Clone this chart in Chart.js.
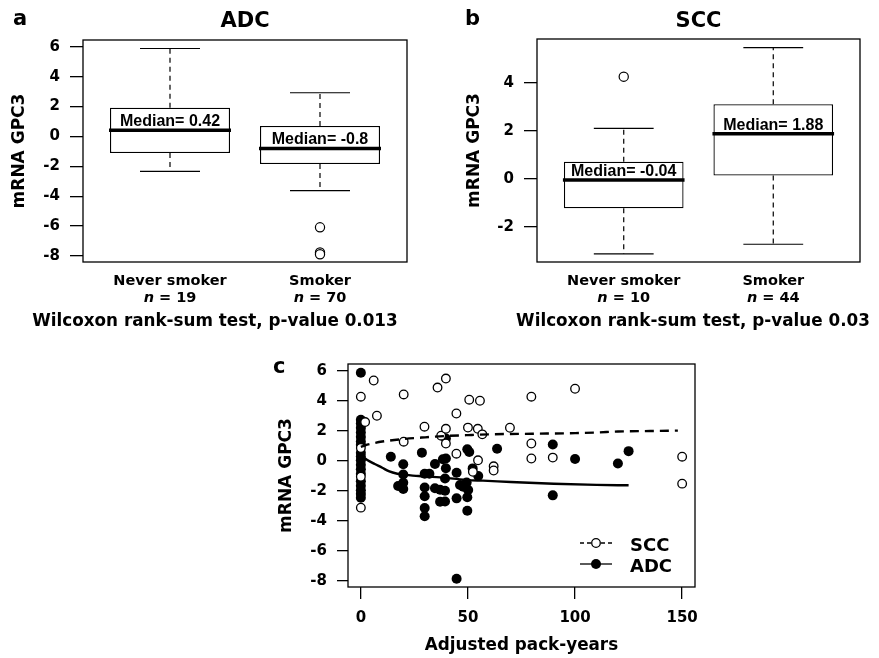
<!DOCTYPE html>
<html>
<head>
<meta charset="utf-8">
<title>GPC3 mRNA by smoking status</title>
<script src="https://cdn.jsdelivr.net/npm/chart.js@4.4.0/dist/chart.umd.min.js"></script>
<style>
  body { margin: 0; background: #fff; }
  #wrap { position: relative; width: 879px; height: 658px; overflow: hidden; }
  canvas { position: absolute; }
</style>
</head>
<body>
<div id="wrap">
  <canvas id="chartA" width="440" height="340" style="left:0;top:0"></canvas>
  <canvas id="chartB" width="439" height="340" style="left:440px;top:0"></canvas>
  <canvas id="chartC" width="450" height="328" style="left:270px;top:330px"></canvas>
</div>
<script>
// ---- data ----
const groups = ['Never smoker', 'Smoker'];

// a: ADC box plot (five-number summaries)
const adcN = [19, 70];
const adcLow = [-2.34, -3.63];
const adcQ1 = [-1.11, -1.85];
const adcMedian = [0.42, -0.8];
const adcQ3 = [1.92, 0.70];
const adcHigh = [5.88, 2.92];
const adcOutliers = [[], [-6.08, -7.76, -7.88]];
const adcPValue = '0.013';

// b: SCC box plot
const sccN = [10, 44];
const sccLow = [-3.12, -2.72];
const sccQ1 = [-1.22, 0.14];
const sccMedian = [-0.04, 1.88];
const sccQ3 = [0.72, 3.11];
const sccHigh = [2.11, 5.47];
const sccOutliers = [[4.26], []];
const sccPValue = '0.03';

const yTicksA = [-8, -6, -4, -2, 0, 2, 4, 6];
const yTicksB = [-2, 0, 2, 4];
const yTicksC = [-8, -6, -4, -2, 0, 2, 4, 6];
const xTicksC = [0, 50, 100, 150];

// c: GPC3 vs adjusted pack-years
const sccPackYears = [0, 0, 0, 0, 2, 6, 7.5, 20, 20, 29.7, 35.8, 37.5, 39.7, 39.7, 39.7, 44.6, 44.6,
  50, 50.6, 52.3, 54.6, 54.7, 55.6, 56.7, 62, 62, 69.6, 79.6, 79.6, 79.6, 89.6, 100, 150, 150];
const sccGPC3 = [4.29, 0.87, -1.05, -3.11, 2.6, 5.37, 3.02, 4.44, 1.29, 2.29, 4.9, 1.69, 5.5, 2.15, 1.17, 3.17, 0.49,
  2.23, 4.09, -0.72, 2.15, 0.05, 4.02, 1.78, -0.35, -0.63, 2.22, 4.29, 1.17, 0.17, 0.23, 4.82, 0.29, -1.51];

const adcPackYears = [0, 0, 0, 0, 0, 0, 0, 0, 0, 0, 0, 0, 0, 0, 0, 0, 0, 0, 0,
  14, 17.4, 19.8, 19.8, 19.8, 19.8, 28.5, 29.8, 32, 29.8, 29.8, 29.8, 29.8, 34.6, 34.6, 37, 39.3, 37, 39.3,
  38.3, 39.7, 39.7, 39.3, 39.7, 44.7, 46.3, 47.8, 49.4, 50.1, 44.7, 49.7, 49.7, 44.7, 49.7, 50.6, 52.2,
  54.8, 63.6, 89.6, 89.6, 100, 120, 125];
const adcGPC3 = [5.89, 2.75, 2.5, 2.2, 1.9, 1.6, 1.3, 1.07, 0.55, 0.3, 0.05, -0.25, -0.55, -0.85, -1.35, -1.65, -1.95, -2.2, -2.45,
  0.29, -1.67, -0.22, -0.9, -1.45, -1.87, 0.56, -0.85, -0.85, -1.76, -2.35, -3.13, -3.68, -0.2, -1.82, -1.92, -1.98, -2.72, -2.7,
  0.12, 0.17, -0.48, -1.16, 1.5, -0.78, -1.6, -1.71, -1.44, -1.93, -2.49, -2.42, -3.31, -7.85, 0.78, 0.6, -0.49,
  -1.0, 0.82, 1.1, -2.29, 0.13, -0.17, 0.66];

// smoothed trend lines
const sccTrendX = [0, 2, 5, 10, 20, 30, 40, 50, 60, 80, 100, 110, 120, 135, 148];
const sccTrendY = [0.95, 1.05, 1.16, 1.3, 1.47, 1.58, 1.67, 1.73, 1.78, 1.82, 1.86, 1.9, 1.97, 2.0, 2.03];
const adcTrendX = [0, 3, 6.5, 10, 13, 17, 20, 27, 40, 50, 57, 70, 90, 110, 125];
const adcTrendY = [0.38, 0.07, -0.2, -0.45, -0.68, -0.85, -0.9, -1.0, -1.12, -1.27, -1.31, -1.4, -1.52, -1.59, -1.62];

// ---- drawing ----
const FONT = '"DejaVu Sans", sans-serif';
Chart.defaults.font.family = FONT;
Chart.defaults.font.weight = 'bold';
Chart.defaults.color = '#000';
Chart.defaults.animation = false;

function line(ctx, x1, y1, x2, y2) {
  ctx.beginPath();
  ctx.moveTo(x1, y1);
  ctx.lineTo(x2, y2);
  ctx.stroke();
}

function text(ctx, s, x, y, size, align, style) {
  ctx.font = (style || 'bold') + ' ' + size + 'px ' + FONT;
  ctx.textAlign = align || 'center';
  ctx.textBaseline = 'alphabetic';
  ctx.fillText(s, x, y);
}

function yTitle(ctx, s, x, y, size) {
  ctx.save();
  ctx.translate(x, y);
  ctx.rotate(-Math.PI / 2);
  ctx.font = 'bold ' + size + 'px ' + FONT;
  ctx.textAlign = 'center';
  ctx.textBaseline = 'middle';
  ctx.fillText(s, 0, 0);
  ctx.restore();
}

function tickList(arr) {
  return s => { s.ticks = arr.map(v => ({ value: v })); };
}

function boxPanelPlugin(p) {
  return {
    id: 'boxPanel',
    afterDatasetsDraw(chart) {
      const { ctx, chartArea: a, scales: { x, y } } = chart;
      ctx.save();
      ctx.strokeStyle = '#000';
      ctx.fillStyle = '#000';
      p.median.forEach((m, i) => {
        const c = i + 1;
        const cx = x.getPixelForValue(c);
        const yHi = y.getPixelForValue(p.high[i]);
        const yLo = y.getPixelForValue(p.low[i]);
        ctx.lineWidth = 1.2;
        ctx.setLineDash([5, 4]);
        line(ctx, cx, y.getPixelForValue(p.q3[i]), cx, yHi);
        line(ctx, cx, y.getPixelForValue(p.q1[i]), cx, yLo);
        ctx.setLineDash([]);
        line(ctx, x.getPixelForValue(c - 0.2), yHi, x.getPixelForValue(c + 0.2), yHi);
        line(ctx, x.getPixelForValue(c - 0.2), yLo, x.getPixelForValue(c + 0.2), yLo);

        const ym = y.getPixelForValue(m);
        ctx.lineWidth = 3.5;
        line(ctx, x.getPixelForValue(c - 0.4) - 1, ym, x.getPixelForValue(c + 0.4) + 1, ym);
        ctx.font = 'bold 16px "Liberation Sans", Arial, sans-serif';
        ctx.textAlign = 'center';
        ctx.textBaseline = 'alphabetic';
        ctx.fillText('Median= ' + m, cx, ym - 4);

        // group label and n
        text(ctx, groups[i], cx, a.bottom + 23, 14.5);
        ctx.font = 'italic bold 14.5px ' + FONT;
        const wN = ctx.measureText('n').width;
        ctx.font = 'bold 14.5px ' + FONT;
        const rest = ' = ' + p.n[i];
        const wR = ctx.measureText(rest).width;
        const x0 = cx - (wN + wR) / 2;
        text(ctx, 'n', x0, a.bottom + 40, 14.5, 'left', 'italic bold');
        text(ctx, rest, x0 + wN, a.bottom + 40, 14.5, 'left');
      });
      ctx.lineWidth = 1.3;
      ctx.strokeRect(a.left, a.top, a.width, a.height);

      text(ctx, p.letter, p.letterX, 25, 21, 'left');
      text(ctx, p.title, (a.left + a.right) / 2, 27, 21);
      yTitle(ctx, 'mRNA GPC3', p.yTitleX, (a.top + a.bottom) / 2, 17);
      text(ctx, 'Wilcoxon rank-sum test, p-value ' + p.pValue, p.testX, 326, 16.8);
      ctx.restore();
    }
  };
}

function makeBoxChart(id, p) {
  return new Chart(document.getElementById(id), {
    type: 'bar',
    data: {
      datasets: [
        {
          type: 'scatter',
          data: p.outliers.flatMap((vals, i) => vals.map(v => ({ x: i + 1, y: v }))),
          pointStyle: 'circle',
          pointRadius: 4.6,
          backgroundColor: '#fff',
          borderColor: '#000',
          borderWidth: 1.2
        },
        {
          type: 'bar',
          data: groups.map((g, i) => ({ x: i + 1, y: [p.q1[i], p.q3[i]] })),
          backgroundColor: '#fff',
          borderColor: '#000',
          borderWidth: 1.3,
          borderSkipped: false,
          categoryPercentage: 1,
          barPercentage: 0.8
        }
      ]
    },
    options: {
      responsive: false,
      events: [],
      layout: { padding: { top: p.padTop, right: p.padRight, left: 0, bottom: 0 } },
      plugins: { legend: { display: false }, tooltip: { enabled: false } },
      scales: {
        x: {
          type: 'linear', min: 0.42, max: 2.58, offset: false,
          afterBuildTicks: tickList(groups.map((g, i) => i + 1)),
          afterFit: s => { s.height = p.xHeight; },
          ticks: { display: false },
          grid: { display: false },
          border: { display: false }
        },
        y: {
          type: 'linear', min: p.yMin, max: p.yMax,
          afterBuildTicks: tickList(p.yTicks),
          afterFit: s => { s.width = p.yWidth; },
          ticks: { padding: 10, font: { size: 15, weight: 'bold' }, color: '#000' },
          grid: { drawOnChartArea: false, drawTicks: true, tickLength: 13, color: '#000', lineWidth: 1.3 },
          border: { display: false }
        }
      }
    },
    plugins: [boxPanelPlugin(p)]
  });
}

makeBoxChart('chartA', {
  letter: 'a', title: 'ADC', n: adcN, pValue: adcPValue,
  low: adcLow, q1: adcQ1, median: adcMedian, q3: adcQ3, high: adcHigh, outliers: adcOutliers,
  yTicks: yTicksA, yMin: -8.4, yMax: 6.45,
  padTop: 40, padRight: 33, yWidth: 83, xHeight: 78,
  letterX: 13, yTitleX: 20, testX: 215
});

makeBoxChart('chartB', {
  letter: 'b', title: 'SCC', n: sccN, pValue: sccPValue,
  low: sccLow, q1: sccQ1, median: sccMedian, q3: sccQ3, high: sccHigh, outliers: sccOutliers,
  yTicks: yTicksB, yMin: -3.46, yMax: 5.83,
  padTop: 39, padRight: 19, yWidth: 97, xHeight: 78,
  letterX: 25, yTitleX: 35, testX: 253
});

const scatterPanel = {
  id: 'scatterPanel',
  afterDatasetsDraw(chart) {
    const { ctx, chartArea: a } = chart;
    ctx.save();
    ctx.strokeStyle = '#000';
    ctx.fillStyle = '#000';
    ctx.lineWidth = 1.3;
    ctx.strokeRect(a.left, a.top, a.width, a.height);

    text(ctx, 'c', 3, 43, 21, 'left');
    yTitle(ctx, 'mRNA GPC3', 17, (a.top + a.bottom) / 2, 17);
    text(ctx, 'Adjusted pack-years', (a.left + a.right) / 2, 320, 16.8);

    // legend
    const l1 = a.right - 115, l2 = a.right - 83, lc = (l1 + l2) / 2;
    const y1 = a.bottom - 44, y2 = a.bottom - 23;
    ctx.lineWidth = 1.3;
    ctx.setLineDash([4, 3]);
    line(ctx, l1, y1, l2, y1);
    ctx.setLineDash([]);
    ctx.beginPath();
    ctx.arc(lc, y1, 4.3, 0, Math.PI * 2);
    ctx.fillStyle = '#fff';
    ctx.fill();
    ctx.stroke();
    line(ctx, l1, y2, l2, y2);
    ctx.fillStyle = '#000';
    ctx.beginPath();
    ctx.arc(lc, y2, 5, 0, Math.PI * 2);
    ctx.fill();
    text(ctx, 'SCC', a.right - 65, y1 + 8, 18, 'left');
    text(ctx, 'ADC', a.right - 65, y2 + 8, 18, 'left');
    ctx.restore();
  }
};

function pairs(xs, ys) {
  return xs.map((v, i) => ({ x: v, y: ys[i] }));
}

new Chart(document.getElementById('chartC'), {
  type: 'scatter',
  data: {
    datasets: [
      {
        type: 'line', label: 'SCC trend', data: pairs(sccTrendX, sccTrendY),
        borderColor: '#000', borderWidth: 2.4, borderDash: [9, 6], pointRadius: 0,
        cubicInterpolationMode: 'monotone', fill: false, order: 0
      },
      {
        type: 'line', label: 'ADC trend', data: pairs(adcTrendX, adcTrendY),
        borderColor: '#000', borderWidth: 2.4, pointRadius: 0,
        cubicInterpolationMode: 'monotone', fill: false, order: 1
      },
      {
        label: 'SCC', data: pairs(sccPackYears, sccGPC3),
        pointStyle: 'circle', pointRadius: 4.3, backgroundColor: '#fff', borderColor: '#000', borderWidth: 1.3,
        order: 2
      },
      {
        label: 'ADC', data: pairs(adcPackYears, adcGPC3),
        pointStyle: 'circle', pointRadius: 5, backgroundColor: '#000', borderColor: '#000', borderWidth: 0,
        order: 3
      }
    ]
  },
  options: {
    responsive: false,
    events: [],
    layout: { padding: { top: 34, right: 25, left: 0, bottom: 0 } },
    plugins: { legend: { display: false }, tooltip: { enabled: false } },
    scales: {
      x: {
        type: 'linear', min: -6, max: 156,
        afterBuildTicks: tickList(xTicksC),
        afterFit: s => { s.height = 71; },
        ticks: { padding: 10, font: { size: 15, weight: 'bold' }, color: '#000', maxRotation: 0 },
        grid: { drawOnChartArea: false, drawTicks: true, tickLength: 12, color: '#000', lineWidth: 1.3 },
        border: { display: false }
      },
      y: {
        type: 'linear', min: -8.4, max: 6.47,
        afterBuildTicks: tickList(yTicksC),
        afterFit: s => { s.width = 78; },
        ticks: { padding: 10, font: { size: 15, weight: 'bold' }, color: '#000' },
        grid: { drawOnChartArea: false, drawTicks: true, tickLength: 11, color: '#000', lineWidth: 1.3 },
        border: { display: false }
      }
    }
  },
  plugins: [scatterPanel]
});
</script>
</body>
</html>
